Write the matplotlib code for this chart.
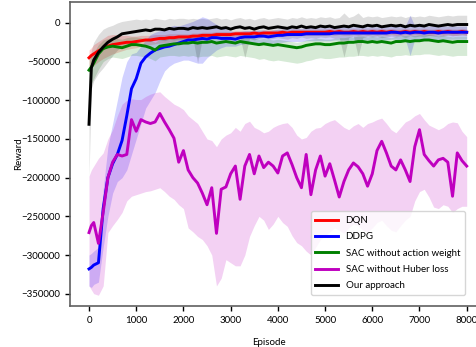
import numpy as np
import matplotlib
matplotlib.use('Agg')
import matplotlib.pyplot as plt

plt.rcParams['font.family'] = ['Lato', 'Open Sans', 'DejaVu Sans']
plt.rcParams['font.size'] = 7

episodes = [0, 50] + list(range(100, 8001, 100))

labels = ['DQN', 'DDPG', 'SAC without action weight', 'SAC without Huber loss', 'Our approach']
colors = ['r', 'b', 'g', 'm', 'k']

dqn_mean = [-45, -42,
            -40, -36, -33, -30, -28, -27, -26, -25, -25, -24,
            -23, -22, -22, -21, -20, -20, -19, -19, -18, -18,
            -18, -17, -17, -16, -16, -16, -15, -15, -15, -15,
            -14, -14, -14, -14, -13, -14, -13, -13, -13, -13,
            -12, -13, -12, -12, -12, -12, -12, -12, -12, -12,
            -11, -12, -11, -12, -12, -11, -12, -11, -12, -11,
            -12, -11, -12, -11, -12, -12, -11, -12, -11, -12,
            -11, -12, -12, -11, -12, -11, -12, -12, -11, -12]
dqn_hi = [-35, -32,
          -28, -24, -20, -16, -15, -15, -16, -16, -17, -17,
          -16, -16, -16, -15, -15, -15, -14, -14, -14, -14,
          -14, -13, -13, -12, -12, -12, -11, -11, -11, -11,
          -10, -10, -10, -10, -9, -10, -9, -9, -9, -9,
          -8, -9, -8, -8, -8, -8, -8, -8, -8, -8,
          -7, -8, -7, -8, -8, -7, -8, -7, -8, -7,
          -8, -7, -8, -7, -8, -8, -7, -8, -7, -8,
          -7, -8, -8, -7, -8, -7, -8, -8, -7, -8]
dqn_lo = [-58, -56,
          -55, -50, -46, -43, -40, -38, -36, -34, -33, -32,
          -30, -29, -28, -27, -26, -26, -25, -24, -23, -23,
          -22, -21, -21, -20, -20, -20, -19, -19, -19, -19,
          -18, -18, -18, -18, -17, -18, -17, -17, -17, -17,
          -16, -17, -16, -16, -16, -16, -16, -16, -16, -16,
          -15, -16, -15, -16, -16, -15, -16, -15, -16, -15,
          -16, -15, -16, -15, -16, -16, -15, -16, -15, -16,
          -15, -16, -16, -15, -16, -15, -16, -16, -15, -16]

ddpg_mean = [-318, -316,
             -313, -310, -240, -200, -182, -170, -152, -120, -85, -72,
             -52, -44, -39, -35, -33, -31, -30, -28, -26, -24,
             -22, -22, -21, -20, -21, -19, -19, -20, -20, -20,
             -21, -19, -18, -18, -18, -17, -17, -18, -17, -16,
             -16, -15, -15, -15, -15, -14, -14, -14, -14, -14,
             -14, -13, -13, -13, -13, -13, -13, -13, -13, -13,
             -13, -13, -13, -12, -12, -13, -12, -13, -12, -12,
             -13, -12, -12, -13, -12, -12, -12, -12, -12, -12]
ddpg_hi = [-300, -298,
           -295, -290, -215, -160, -130, -100, -70, -50, -40, -38,
           -30, -22, -15, -12, -10, -8, -5, -3, -4, -2,
           0, 2, 5, 8, 6, 2, -2, -5, -8, -10,
           -12, -11, -10, -10, -10, -9, -9, -10, -9, -8,
           -8, -7, -7, -7, -7, -6, -6, -6, -6, -6,
           -6, -5, -5, -5, -5, -5, -5, -5, -5, -5,
           -5, -5, -5, -4, -4, -5, -4, 10, -4, -4,
           -5, -4, -4, -5, -4, -4, -4, -4, -4, -4]
ddpg_lo = [-340, -342,
           -338, -335, -290, -250, -220, -205, -200, -190, -170, -150,
           -130, -110, -100, -90, -75, -62, -56, -52, -50, -48,
           -48, -50, -52, -52, -45, -40, -35, -32, -30, -30,
           -30, -28, -27, -27, -27, -26, -26, -27, -26, -25,
           -25, -24, -24, -24, -24, -23, -23, -23, -23, -23,
           -23, -22, -22, -22, -22, -22, -22, -22, -22, -22,
           -22, -22, -22, -21, -21, -22, -21, -42, -21, -21,
           -22, -21, -21, -22, -21, -21, -21, -21, -21, -21]

sac_noaw_mean = [-61, -57,
                 -52, -40, -33, -31, -30, -31, -32, -30, -28, -28,
                 -29, -30, -32, -35, -30, -29, -28, -27, -27, -26,
                 -26, -25, -26, -25, -25, -24, -26, -25, -24, -25,
                 -26, -24, -25, -26, -27, -28, -27, -28, -29, -28,
                 -29, -30, -31, -32, -31, -29, -28, -27, -27, -28,
                 -28, -27, -26, -26, -25, -25, -24, -24, -25, -24,
                 -25, -24, -25, -26, -24, -24, -23, -24, -23, -23,
                 -22, -22, -23, -24, -23, -24, -25, -24, -24, -24]
sac_noaw_hi = [-45, -42,
               -38, -28, -22, -20, -19, -20, -21, -19, -18, -18,
               -19, -20, -22, -25, -21, -20, -19, -19, -19, -18,
               -18, -18, -19, -18, -18, -17, -19, -18, -17, -18,
               -19, -17, -18, -19, -20, -21, -20, -21, -22, -21,
               -22, -23, -24, -25, -24, -22, -21, -20, -20, -21,
               -21, -20, -19, -19, -18, -18, -17, -17, -18, -17,
               -18, -17, -18, -19, -17, -17, -16, -17, -16, -16,
               -15, -15, -16, -17, -16, -17, -18, -17, -17, -17]
sac_noaw_lo = [-82, -78,
               -72, -60, -50, -46, -44, -45, -46, -44, -42, -42,
               -43, -44, -46, -49, -44, -43, -42, -42, -43, -42,
               -43, -42, -44, -43, -43, -42, -44, -43, -42, -43,
               -44, -42, -43, -44, -45, -47, -46, -48, -49, -48,
               -49, -50, -51, -52, -51, -49, -48, -46, -45, -46,
               -46, -45, -44, -44, -43, -43, -42, -42, -43, -42,
               -43, -42, -43, -44, -42, -42, -41, -42, -41, -41,
               -40, -40, -41, -42, -41, -42, -43, -42, -42, -42]

sac_nohub_mean = [-271, -262,
                  -258, -285, -245, -200, -180, -170, -172, -170, -125, -140,
                  -125, -128, -130, -128, -117, -128, -138, -149, -180, -165,
                  -190, -200, -207, -220, -235, -213, -272, -215, -212, -195,
                  -185, -228, -185, -170, -195, -172, -187, -180, -185, -194,
                  -172, -168, -183, -200, -213, -170, -222, -190, -172, -198,
                  -182, -203, -225, -205, -190, -181, -186, -195, -211, -195,
                  -165, -153, -168, -185, -190, -177, -190, -205, -160, -138,
                  -170, -178, -185, -177, -175, -180, -224, -168, -178, -185]
sac_nohub_hi = [-198, -190,
                -185, -175, -168, -150, -138, -120, -105, -100, -98, -99,
                -99, -95, -92, -90, -89, -95, -100, -105, -108, -112,
                -120, -125, -130, -140, -150, -152, -160, -150, -145, -142,
                -135, -140, -130, -127, -135, -138, -142, -140, -135, -132,
                -130, -129, -135, -145, -150, -148, -140, -136, -135, -130,
                -127, -125, -130, -135, -138, -133, -130, -135, -130, -128,
                -125, -123, -130, -138, -142, -135, -128, -125, -120, -117,
                -125, -132, -135, -138, -135, -130, -128, -129, -140, -147]
sac_nohub_lo = [-340, -345,
                -350, -352, -340, -271, -262, -254, -245, -230, -224, -222,
                -220, -218, -217, -215, -213, -218, -224, -228, -235, -240,
                -265, -270, -276, -280, -288, -300, -340, -330, -306, -310,
                -314, -314, -300, -276, -262, -250, -255, -267, -260, -250,
                -258, -263, -275, -284, -288, -295, -300, -290, -280, -275,
                -270, -265, -268, -272, -265, -260, -262, -268, -270, -265,
                -258, -255, -262, -268, -270, -262, -255, -250, -230, -218,
                -215, -225, -238, -240, -235, -237, -245, -240, -237, -237]

ours_mean = [-131, -58,
             -48, -38, -31, -25, -21, -18, -14, -13, -12, -11,
             -10, -9, -10, -8, -8, -9, -7, -8, -7, -7,
             -8, -6, -7, -6, -7, -6, -5, -7, -6, -8,
             -6, -5, -7, -6, -8, -6, -5, -7, -6, -5,
             -6, -7, -5, -6, -4, -6, -5, -6, -4, -5,
             -4, -6, -5, -4, -5, -3, -4, -5, -3, -4,
             -3, -5, -4, -3, -4, -3, -5, -3, -4, -3,
             -4, -2, -3, -4, -3, -2, -3, -2, -2, -2]
ours_hi = [-60, -35,
           -25, -15, -8, -5, -3, 0, 2, 3, 4, 5,
           4, 5, 4, 6, 5, 4, 6, 5, 6, 6,
           5, 6, 5, 6, 5, 6, 7, 5, 6, 4,
           6, 7, 5, 6, 4, 6, 7, 5, 6, 7,
           6, 5, 7, 6, 8, 6, 7, 6, 8, 7,
           8, 6, 7, 13, 7, 9, 13, 7, 9, 8,
           9, 7, 8, 9, 8, 9, 7, 9, 8, 9,
           8, 10, 9, 8, 9, 10, 9, 10, 10, 10]
ours_lo = [-200, -85,
           -75, -65, -58, -50, -42, -35, -30, -28, -26, -25,
           -24, -23, -24, -22, -22, -23, -21, -22, -21, -21,
           -22, -20, -52, -20, -21, -20, -19, -21, -20, -22,
           -20, -19, -45, -20, -22, -20, -19, -21, -20, -19,
           -20, -21, -19, -20, -18, -20, -19, -20, -18, -19,
           -18, -20, -19, -44, -19, -17, -43, -19, -17, -18,
           -17, -19, -18, -17, -18, -17, -19, -17, -18, -17,
           -18, -16, -17, -18, -17, -16, -17, -16, -16, -16]

means = [dqn_mean, ddpg_mean, sac_noaw_mean, sac_nohub_mean, ours_mean]
his = [dqn_hi, ddpg_hi, sac_noaw_hi, sac_nohub_hi, ours_hi]
los = [dqn_lo, ddpg_lo, sac_noaw_lo, sac_nohub_lo, ours_lo]
band_alpha = [0.18, 0.18, 0.16, 0.18, 0.13]

fig = plt.figure(figsize=(4.77, 3.47), dpi=100)
ax = fig.add_axes([0.147, 0.118, 0.871, 0.876])

x = np.array(episodes)
for lab, c, m, hi, lo, a in zip(labels, colors, means, his, los, band_alpha):
    ax.fill_between(x, np.array(lo) * 1000, np.array(hi) * 1000, color=c, alpha=a, lw=0)
    ax.plot(x, np.array(m) * 1000, color=c, lw=2.1, label=lab, zorder=3)

ax.set_xlim(-400, 8400)
ax.set_ylim(-366000, 27000)
ax.set_xticks(range(0, 8001, 1000))
ax.set_yticks(range(-350000, 1, 50000))
ax.tick_params(labelsize=7, length=3.5, width=1, color='k')

for s in ['left', 'bottom', 'top']:
    ax.spines[s].set_color('#606060')
    ax.spines[s].set_linewidth(1.2)
ax.spines['right'].set_visible(False)

ax.set_xlabel('Episode', fontsize=7)
ax.set_ylabel('Reward', fontsize=7)
ax.xaxis.set_label_coords(0.479, -0.105)
ax.yaxis.set_label_coords(-0.112, 0.5)

ax.legend(loc='lower right', bbox_to_anchor=(0.962, 0.02), fontsize=7,
          handlelength=2.3, labelspacing=0.75, borderpad=0.5)

plt.savefig('out.png', dpi=100)
plt.close('all')
